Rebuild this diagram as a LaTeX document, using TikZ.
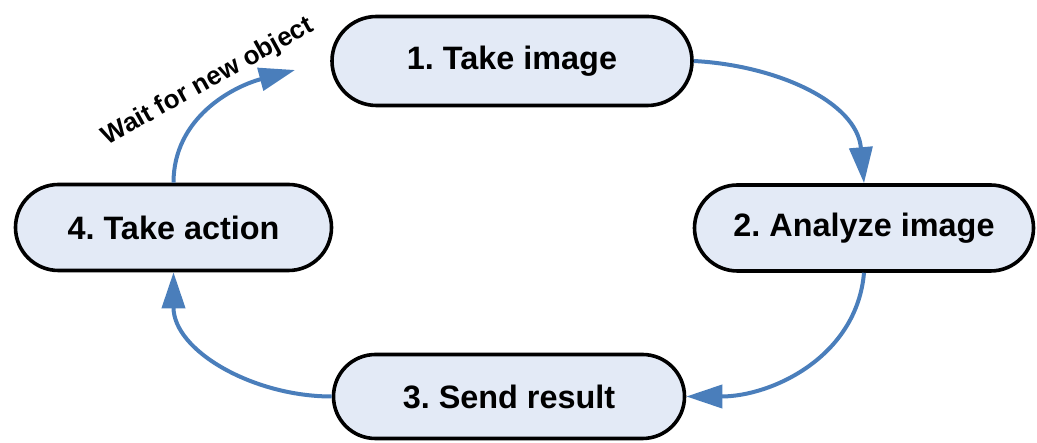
\documentclass[tikz,border=0pt]{standalone}
\usepackage{fontspec}
\setmainfont{Liberation Sans}
\frenchspacing
\usetikzlibrary{arrows.meta,shapes.misc,positioning}
\definecolor{pill}{HTML}{E3EAF6}
\definecolor{loopblu}{HTML}{4A7EBB}
\tikzset{
  stage/.style={rounded rectangle, draw=black, line width=1.8pt, fill=pill, inner sep=0pt,
    font=\fontsize{16.2}{19}\selectfont\bfseries},
  flow/.style={loopblu, line width=2pt, -{Triangle[length=18pt,width=11.5pt]}},
  note/.style={font=\fontsize{13}{15}\selectfont\bfseries},
}

\begin{document}
\begin{tikzpicture}[x=0.5pt,y=0.5pt]
 \useasboundingbox (0,0) rectangle (1037,443);
 % the four stages
 \node[stage, minimum width=180pt, minimum height=44.5pt] (take) at (512,382) {1. Take image};
 \node[stage, minimum width=169.5pt, minimum height=43pt] (analyze) at (864,215) {2. Analyze image};
 \node[stage, minimum width=175.5pt, minimum height=42pt] (send) at (509,46.5) {3. Send result};
 \node[stage, minimum width=158pt, minimum height=43pt] (act) at (173.5,215.5) {4. Take action};
 \coordinate (waitend) at (295,373);
 % loop arrows
 \draw[flow] (take.east) to[out=-3,in=95] (analyze.north);
 \draw[flow] (analyze.south) to[out=-95,in=0] (send.east);
 \draw[flow] (send.west) to[out=180,in=-90] (act.south);
 \draw[flow] (act.north) to[out=90,in=195] (waitend);
 \node[note, rotate=29] (waitlbl) at (208,361) {Wait for new object};
\end{tikzpicture}
\end{document}
